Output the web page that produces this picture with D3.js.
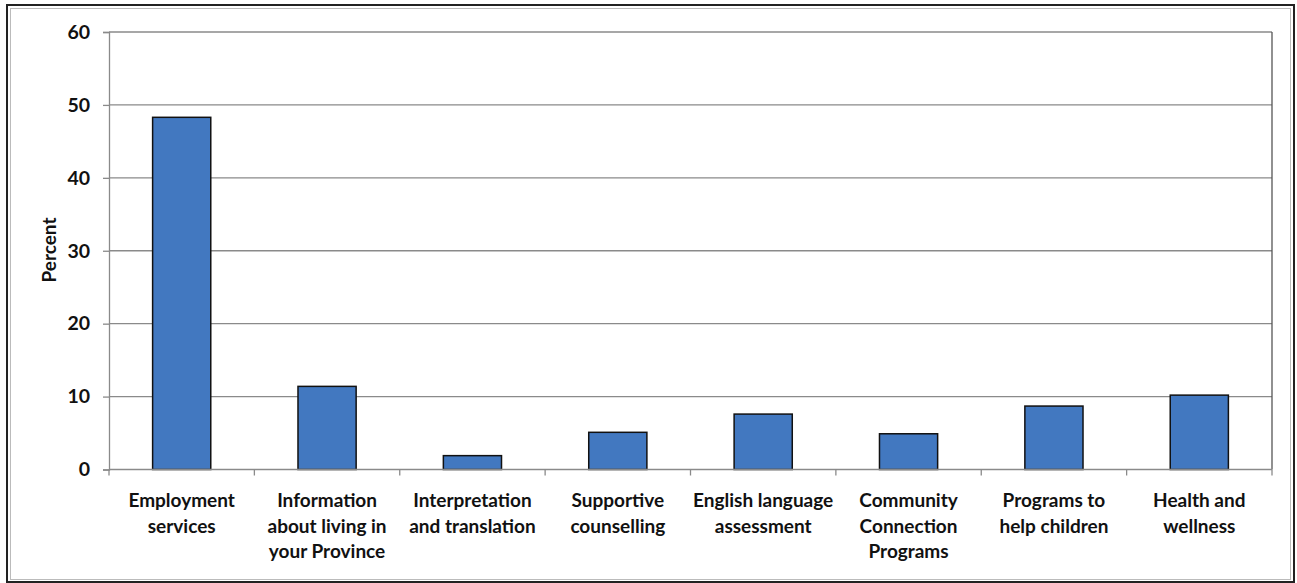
<!DOCTYPE html>
<html><head><meta charset="utf-8">
<script src="https://cdn.jsdelivr.net/npm/d3@7"></script>
<style>
html,body{margin:0;padding:0;background:#fff;}
svg{display:block;}
text{font-family:Lato,"Open Sans",sans-serif;font-weight:700;fill:#111;}
</style></head>
<body>
<svg id="chart" width="1297" height="583"></svg>
<script>
const categories = [
  ["Employment","services"],
  ["Information","about living in","your Province"],
  ["Interpretation","and translation"],
  ["Supportive","counselling"],
  ["English language","assessment"],
  ["Community","Connection","Programs"],
  ["Programs to","help children"],
  ["Health and","wellness"]
];
const values = [48.3, 11.4, 1.9, 5.1, 7.6, 4.9, 8.7, 10.2];
const yTicks = [0, 10, 20, 30, 40, 50, 60];
const yLabel = "Percent";

const svg = d3.select("#chart");
const m = {left:109, right:1272, top:32, bottom:469.5};

// outer frame
svg.append("rect").attr("x",7).attr("y",5).attr("width",1287).attr("height",577)
  .attr("fill","#fff").attr("stroke","#222").attr("stroke-width",2);
svg.append("rect").attr("x",10.5).attr("y",8.5).attr("width",1280).attr("height",571)
  .attr("fill","none").attr("stroke","#bbb").attr("stroke-width",1);

const x = d3.scaleBand().domain(d3.range(categories.length))
  .range([m.left, m.right]).paddingInner(0.6).paddingOuter(0.3);
const y = d3.scaleLinear().domain([0,60]).range([m.bottom, m.top]);

// gridlines
svg.append("g").selectAll("line").data(yTicks.filter(t=>t>0)).join("line")
  .attr("x1", m.left).attr("x2", m.right)
  .attr("y1", d=>y(d)).attr("y2", d=>y(d))
  .attr("stroke","#8a8a8a").attr("stroke-width",1.3);

// right plot border
svg.append("line").attr("x1",m.right).attr("x2",m.right).attr("y1",m.top).attr("y2",m.bottom)
  .attr("stroke","#555").attr("stroke-width",1.3);

// bars
svg.append("g").selectAll("rect").data(values).join("rect")
  .attr("x",(d,i)=>x(i)).attr("width",x.bandwidth())
  .attr("y",d=>y(d)).attr("height",d=>y(0)-y(d))
  .attr("fill","#4278c0").attr("stroke","#111").attr("stroke-width",1.5);

// y axis
const yAxis = d3.axisLeft(y).tickValues(yTicks).tickSize(6).tickPadding(13);
const gy = svg.append("g").attr("transform",`translate(${m.left},0)`).call(yAxis);
gy.select(".domain").attr("stroke","#8a8a8a").attr("stroke-width",1.3);
gy.selectAll(".tick line").attr("stroke","#8a8a8a").attr("stroke-width",1.3);
gy.selectAll(".tick text").attr("font-size","19.5px").attr("font-family","Lato, sans-serif").attr("font-weight",700).attr("fill","#111");

// x axis: ticks at category boundaries
const step = x.step();
const bounds = d3.range(categories.length+1).map(i=>m.left + i*step);
svg.append("line").attr("x1",m.left).attr("x2",m.right).attr("y1",y(0)).attr("y2",y(0))
  .attr("stroke","#8a8a8a").attr("stroke-width",1.3);
svg.append("g").selectAll("line").data(bounds).join("line")
  .attr("x1",d=>d).attr("x2",d=>d).attr("y1",y(0)).attr("y2",y(0)+6)
  .attr("stroke","#8a8a8a").attr("stroke-width",1.3);

// category labels
const lab = svg.append("g").selectAll("text").data(categories).join("text")
  .attr("text-anchor","middle").attr("font-size","19px")
  .attr("x",(d,i)=>x(i)+x.bandwidth()/2).attr("y",507);
lab.selectAll("tspan").data(d=>d).join("tspan")
  .attr("x",function(){return this.parentNode.getAttribute("x");})
  .attr("dy",(d,i)=>i===0?0:25.7).text(d=>d);

// y label
svg.append("text").attr("transform","translate(56,250) rotate(-90)")
  .attr("text-anchor","middle").attr("font-size","19px").text(yLabel);
</script>
</body></html>
